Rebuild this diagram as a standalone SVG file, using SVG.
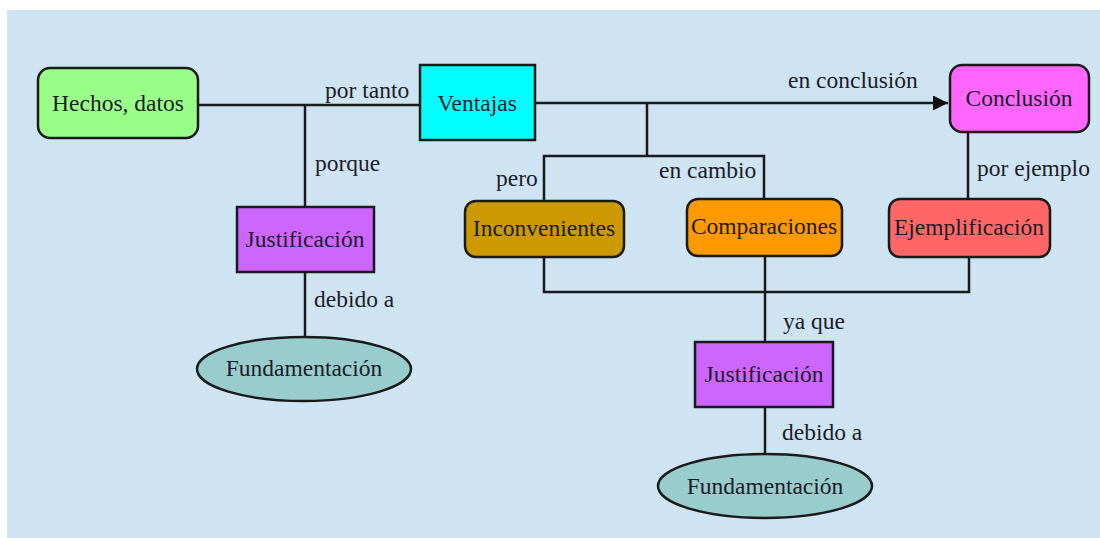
<svg xmlns="http://www.w3.org/2000/svg" width="1100" height="538" viewBox="0 0 1100 538">
<defs>
<style>
text{font-family:'Liberation Serif','Times New Roman','DejaVu Serif',serif;font-size:23.5px;fill:#1c1c28}
.n{text-anchor:middle}
.box{stroke:#1a1a1a;stroke-width:2.5}
.c{fill:none;stroke:#1a1a1a;stroke-width:2.5}
</style>
<marker id="arr" viewBox="0 0 10 10" refX="10" refY="5" markerWidth="17" markerHeight="15" markerUnits="userSpaceOnUse" orient="auto">
<path d="M0,0 L10,5 L0,10 z" fill="#111"/>
</marker>
</defs>
<rect x="0" y="0" width="1100" height="538" fill="#ffffff"/>
<rect x="7" y="10" width="1093" height="528" fill="#cfe4f3"/>
<g id="connectors">
<path class="c" d="M198,105 H420"/>
<path class="c" d="M305,105 V207"/>
<path class="c" d="M535,103 H948" marker-end="url(#arr)"/>
<path class="c" d="M647,103 V156 M544,201 V156 H764 V200"/>
<path class="c" d="M968,132 V199"/>
<path class="c" d="M544,257 V292 H969 V257"/>
<path class="c" d="M765,256 V342"/>
<path class="c" d="M305,272 V337"/>
<path class="c" d="M765,407 V454"/>
<text x="325" y="98">por tanto</text>
<text x="315" y="171">porque</text>
<text x="788" y="88">en conclusión</text>
<text x="496" y="186">pero</text>
<text x="659" y="178">en cambio</text>
<text x="977" y="176">por ejemplo</text>
<text x="314" y="307">debido a</text>
<text x="783" y="329">ya que</text>
<text x="782" y="440">debido a</text>
</g>
<g id="hechos"><rect class="box" x="38" y="68" width="160" height="70" rx="12" fill="#99ff88"/><text class="n" x="118" y="111">Hechos, datos</text></g>
<g id="ventajas"><rect class="box" x="420" y="65" width="115" height="75" fill="#00ffff"/><text class="n" x="477" y="111">Ventajas</text></g>
<g id="conclusion"><rect class="box" x="950" y="65" width="139" height="67" rx="12" fill="#ff66ff"/><text class="n" x="1019" y="106">Conclusión</text></g>
<g id="justificacion1"><rect class="box" x="237" y="207" width="137" height="65" fill="#cc66ff"/><text class="n" x="305" y="247">Justificación</text></g>
<g id="inconvenientes"><rect class="box" x="465" y="201" width="159" height="56" rx="11" fill="#cc9900"/><text class="n" x="544" y="236">Inconvenientes</text></g>
<g id="comparaciones"><rect class="box" x="687" y="199" width="155" height="57" rx="11" fill="#ff9900"/><text class="n" x="764" y="234">Comparaciones</text></g>
<g id="ejemplificacion"><rect class="box" x="889" y="199" width="161" height="58" rx="11" fill="#ff6666"/><text class="n" x="969" y="235">Ejemplificación</text></g>
<g id="fundamentacion1"><ellipse class="box" cx="304" cy="369" rx="107" ry="32" fill="#99cccc"/><text class="n" x="304" y="376">Fundamentación</text></g>
<g id="justificacion2"><rect class="box" x="695" y="342" width="138" height="65" fill="#cc66ff"/><text class="n" x="764" y="382">Justificación</text></g>
<g id="fundamentacion2"><ellipse class="box" cx="765" cy="486" rx="107" ry="32" fill="#99cccc"/><text class="n" x="765" y="494">Fundamentación</text></g>
</svg>
